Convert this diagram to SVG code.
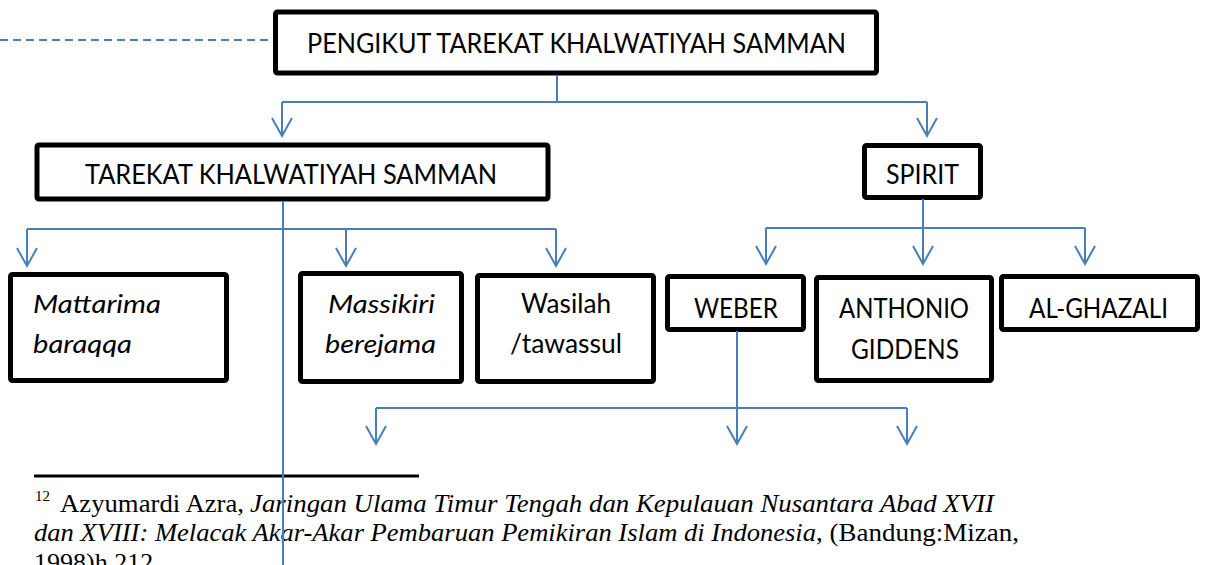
<svg xmlns="http://www.w3.org/2000/svg" width="1209" height="565" viewBox="0 0 1209 565">
<style>
.box{fill:#fff;stroke:#000;stroke-width:5;stroke-linejoin:round}
.lbl{font-family:Lato,"Liberation Sans",sans-serif;font-size:26px;fill:#000;text-anchor:middle}
.it{font-style:italic}
.con{fill:none;stroke:#4a7ebb;stroke-width:2}
.fn{font-family:"Liberation Serif",serif;font-size:26px;fill:#000}
</style>
<defs>
<marker id="ah" markerUnits="userSpaceOnUse" markerWidth="24" markerHeight="24" viewBox="-2 -12 24 24" refX="18" refY="0" orient="auto">
<path d="M0,-10 L18,0 L0,10" fill="none" stroke="#4a7ebb" stroke-width="2"/>
</marker>
</defs>
<rect width="1209" height="565" fill="#fff"/>

<g id="n-pengikut">
<rect class="box" x="275.5" y="12" width="601" height="61" rx="2"/>
<text class="lbl" x="576.5" y="53" textLength="539" lengthAdjust="spacingAndGlyphs">PENGIKUT TAREKAT KHALWATIYAH SAMMAN</text>
</g>
<g id="n-tarekat">
<rect class="box" x="37" y="145" width="511" height="54" rx="2"/>
<text class="lbl" x="291" y="184" textLength="412" lengthAdjust="spacingAndGlyphs">TAREKAT KHALWATIYAH SAMMAN</text>
</g>
<g id="n-spirit">
<rect class="box" x="864.5" y="145.5" width="116" height="52" rx="2"/>
<text class="lbl" x="922.5" y="184" textLength="73" lengthAdjust="spacingAndGlyphs">SPIRIT</text>
</g>
<g id="n-mattarima">
<rect class="box" x="10.5" y="274.5" width="216" height="106" rx="2"/>
<text class="lbl it" x="33" y="313" style="text-anchor:start" textLength="128" lengthAdjust="spacingAndGlyphs">Mattarima</text>
<text class="lbl it" x="33" y="353" style="text-anchor:start" textLength="99" lengthAdjust="spacingAndGlyphs">baraqqa</text>
</g>
<g id="n-massikiri">
<rect class="box" x="300.5" y="273.5" width="161" height="108" rx="2"/>
<text class="lbl it" x="381.5" y="313" textLength="107" lengthAdjust="spacingAndGlyphs">Massikiri</text>
<text class="lbl it" x="380.5" y="353" textLength="111" lengthAdjust="spacingAndGlyphs">berejama</text>
</g>
<g id="n-wasilah">
<rect class="box" x="477.5" y="275.5" width="176" height="106" rx="2"/>
<text class="lbl" x="566" y="313" textLength="90" lengthAdjust="spacingAndGlyphs">Wasilah</text>
<text class="lbl" x="566" y="353" textLength="112" lengthAdjust="spacingAndGlyphs">/tawassul</text>
</g>
<g id="n-weber">
<rect class="box" x="667.5" y="276.5" width="136" height="53" rx="2"/>
<text class="lbl" x="736" y="318" textLength="84" lengthAdjust="spacingAndGlyphs">WEBER</text>
</g>
<g id="n-giddens">
<rect class="box" x="816.5" y="277.5" width="175" height="103" rx="2"/>
<text class="lbl" x="904" y="318" textLength="130" lengthAdjust="spacingAndGlyphs">ANTHONIO</text>
<text class="lbl" x="905" y="359" textLength="108" lengthAdjust="spacingAndGlyphs">GIDDENS</text>
</g>
<g id="n-ghazali">
<rect class="box" x="1001.5" y="276.5" width="196" height="53" rx="2"/>
<text class="lbl" x="1098.5" y="318" textLength="139" lengthAdjust="spacingAndGlyphs">AL-GHAZALI</text>
</g>

<g id="footnote">
<line x1="34" y1="476" x2="419" y2="476" stroke="#000" stroke-width="3"/>
<text class="fn" x="35" y="501" style="font-size:15px">12</text>
<text class="fn" x="60" y="512" textLength="184" lengthAdjust="spacingAndGlyphs">Azyumardi Azra,</text>
<text class="fn" x="250" y="512" font-style="italic" textLength="744" lengthAdjust="spacingAndGlyphs">Jaringan Ulama Timur Tengah dan Kepulauan Nusantara Abad XVII</text>
<text class="fn" x="34" y="541" font-style="italic" textLength="782" lengthAdjust="spacingAndGlyphs">dan XVIII: Melacak Akar-Akar Pembaruan Pemikiran Islam di Indonesia</text>
<text class="fn" x="816" y="541" textLength="203" lengthAdjust="spacingAndGlyphs">, (Bandung:Mizan,</text>
<text class="fn" x="34" y="571">1998)h.212</text>
</g>

<g id="connectors">
<line class="con" x1="0" y1="40" x2="273" y2="40" stroke-dasharray="8 5"/>
<path class="con" d="M557,75 V102 M282,102 H927"/>
<path class="con" d="M282,102 V136" marker-end="url(#ah)"/>
<path class="con" d="M927,102 V136" marker-end="url(#ah)"/>
<path class="con" d="M283,201 V565 M27,229 H556"/>
<path class="con" d="M27,229 V266" marker-end="url(#ah)"/>
<path class="con" d="M346,229 V266" marker-end="url(#ah)"/>
<path class="con" d="M556,229 V266" marker-end="url(#ah)"/>
<path class="con" d="M766,228 H1085"/>
<path class="con" d="M923,199 V264" marker-end="url(#ah)"/>
<path class="con" d="M766,228 V264" marker-end="url(#ah)"/>
<path class="con" d="M1085,228 V264" marker-end="url(#ah)"/>
<path class="con" d="M376,408 H907"/>
<path class="con" d="M737,331 V444" marker-end="url(#ah)"/>
<path class="con" d="M376,408 V444" marker-end="url(#ah)"/>
<path class="con" d="M907,408 V444" marker-end="url(#ah)"/>
</g>
</svg>
